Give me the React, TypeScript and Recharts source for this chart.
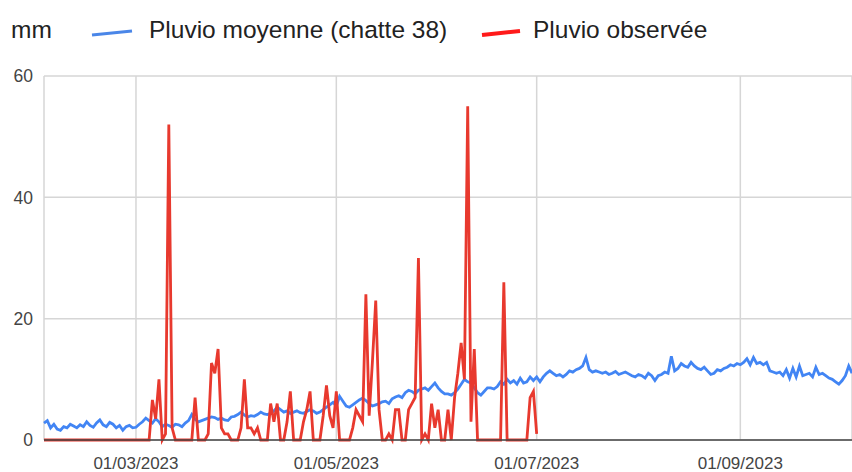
import { LineChart, Line, XAxis, YAxis, CartesianGrid } from 'recharts';

// jours comptés depuis le 01/02/2023
const tickDays = [28, 89, 150, 212];
const tickLabels = ['01/03/2023', '01/05/2023', '01/07/2023', '01/09/2023'];
const yTicks = [0, 20, 40, 60];

// Pluvio moyenne (chatte 38), une valeur par jour
const moyenne = [
  2.8, 3.2, 2.0, 2.6, 1.8, 1.6, 2.2, 2.0, 2.6, 2.3,
  2.0, 2.5, 2.2, 3.0, 2.4, 2.1, 2.8, 3.3, 2.5, 2.2,
  2.9, 2.6, 2.0, 2.4, 1.6, 2.2, 2.4, 2.0, 2.1, 2.6,
  3.0, 3.6, 3.2, 2.8, 3.5, 3.0, 2.2, 2.6, 2.4, 2.1,
  2.6, 2.5, 2.2, 2.8, 3.2, 4.2, 3.4, 3.0, 3.2, 3.4,
  3.6, 3.8, 3.7, 3.4, 3.6, 3.3, 3.2, 3.8, 3.9, 4.2,
  4.6, 4.1, 3.8, 4.0, 3.9, 4.2, 4.6, 4.3, 4.2, 4.4,
  4.8, 5.4, 5.0, 4.6, 4.8, 4.4, 4.6, 4.8, 4.5, 4.4,
  4.7, 5.0, 4.8, 4.4, 4.6, 5.0, 5.4, 5.8, 6.2, 5.6,
  7.2, 6.4, 5.6, 5.4, 5.8, 6.2, 6.6, 6.9, 6.5, 6.0,
  5.6, 5.8, 6.0, 6.3, 6.4, 6.0, 6.8, 7.1, 7.3, 7.0,
  7.8, 8.2, 8.0, 7.6, 8.2, 8.4, 8.6, 8.2, 8.8, 9.4,
  8.6, 8.0, 7.6, 7.6, 7.4, 7.8, 8.4, 9.2, 10.0, 9.6,
  9.4, 8.6, 7.8, 7.4, 8.0, 8.6, 8.6, 8.4, 8.8, 9.6,
  9.2, 10.0, 9.4, 9.8, 9.2, 10.2, 9.4, 9.6, 10.4, 9.8,
  10.4, 9.6, 10.4, 11.0, 11.4, 11.0, 10.6, 10.8, 10.4, 10.8,
  11.4, 11.2, 11.6, 11.8, 12.2, 13.6, 11.6, 11.2, 11.4, 11.2,
  11.0, 11.2, 10.8, 11.0, 11.3, 10.8, 11.0, 11.2, 10.9, 10.6,
  10.4, 10.8, 10.6, 10.2, 11.0, 10.6, 9.8, 10.6, 10.8, 11.2,
  11.0, 13.8, 11.4, 11.8, 12.6, 12.2, 12.0, 12.8, 12.2, 11.8,
  11.6, 12.0, 11.4, 10.8, 11.0, 11.6, 11.4, 11.8, 12.0, 12.4,
  12.2, 12.6, 12.4, 12.8, 13.4, 12.4, 13.6, 12.6, 12.8, 12.4,
  12.8, 11.4, 11.2, 11.0, 11.2, 10.6, 11.6, 10.2, 11.8, 10.4,
  12.2, 10.6, 10.8, 11.0, 10.4, 12.0, 10.8, 11.0, 10.6, 10.2,
  10.0, 9.6, 9.2, 9.8, 10.6, 12.2, 11.0,
];

// Pluvio observée, jusqu'au 01/07/2023
const observee = [
  0, 0, 0, 0, 0, 0, 0, 0, 0, 0,
  0, 0, 0, 0, 0, 0, 0, 0, 0, 0,
  0, 0, 0, 0, 0, 0, 0, 0, 0, 0,
  0, 0, 0, 6.6, 3.5, 10, 0, 1, 52, 2,
  0, 0, 0, 0, 0, 0, 7, 0, 0, 0,
  1, 12.7, 11, 15, 2, 1, 1, 0, 0, 0,
  2, 10, 2, 2, 1, 2, 0, 0, 0, 6,
  3, 6, 0, 0, 3, 8, 0, 0, 0, 3,
  5, 8, 0, 0, 0, 4, 9, 4, 2, 8,
  0, 0, 0, 0, 2, 5, 4, 3, 24, 4,
  13, 23, 5, 0, 0, 1, 0, 5, 5, 0,
  0, 5, 6, 7, 30, 0, 1, 0, 6, 2,
  5, 0, 0, 5, 0, 7, 11, 16, 10, 55,
  3, 15, 0, 0, 0, 0, 0, 0, 0, 0,
  26, 0, 0, 0, 0, 0, 0, 0, 7, 8,
  1,
];

const data = moyenne.map((m, i) => ({
  day: i,
  moyenne: m,
  observee: i < observee.length ? observee[i] : null,
}));

const font = '"Liberation Sans", Arial, sans-serif';

export default function App() {
  return (
    <div style={{ position: 'absolute', left: 0, top: 0, width: 852, height: 472, background: '#fff', fontFamily: font }}>
      <div style={{ position: 'absolute', left: 11, top: 16, fontSize: 24.5, color: '#222' }}>mm</div>
      <svg style={{ position: 'absolute', left: 0, top: 0 }} width={852} height={60}>
        <line x1={92} y1={35} x2={132} y2={31} stroke="#4a86e8" strokeWidth={3} />
        <line x1={482} y1={35} x2={520} y2={31} stroke="#ff1a1a" strokeWidth={4} />
      </svg>
      <div style={{ position: 'absolute', left: 149, top: 16, fontSize: 24.5, color: '#222', whiteSpace: 'nowrap' }}>
        Pluvio moyenne (chatte 38)
      </div>
      <div style={{ position: 'absolute', left: 533, top: 16, fontSize: 24.5, color: '#222', whiteSpace: 'nowrap' }}>
        Pluvio observée
      </div>
      <LineChart width={852} height={472} data={data} margin={{ top: 76, right: 0, bottom: 0, left: 0 }}>
        <CartesianGrid stroke="#d6d6d6" strokeWidth={1.5} />
        <XAxis
          dataKey="day"
          type="number"
          domain={[0, 246]}
          ticks={tickDays}
          tickFormatter={(d) => tickLabels[tickDays.indexOf(d)]}
          tickLine={false}
          axisLine={{ stroke: '#444', strokeWidth: 1.5 }}
          tickMargin={11}
          height={32}
          tick={{ fill: '#444', fontSize: 17, fontFamily: font }}
        />
        <YAxis
          domain={[0, 60]}
          ticks={yTicks}
          width={44}
          tickLine={false}
          axisLine={false}
          tickMargin={5}
          tick={{ fill: '#444', fontSize: 17.5, fontFamily: font }}
        />
        <Line
          dataKey="moyenne"
          stroke="#4285f4"
          strokeWidth={2.8}
          dot={false}
          type="linear"
          isAnimationActive={false}
        />
        <Line
          dataKey="observee"
          stroke="#e8392e"
          strokeWidth={2.8}
          dot={false}
          type="linear"
          isAnimationActive={false}
        />
      </LineChart>
    </div>
  );
}
